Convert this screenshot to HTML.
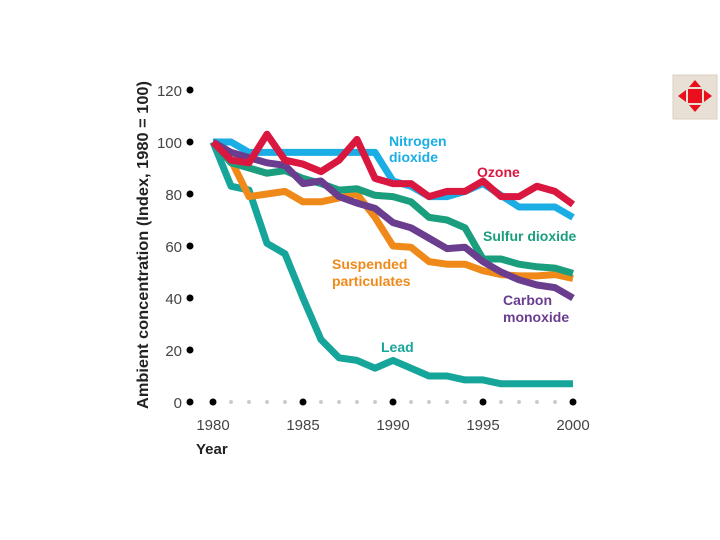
<!DOCTYPE html>
<html><head><meta charset="utf-8"><style>
body{margin:0;background:#fff;}
svg{display:block;font-family:"Liberation Sans",sans-serif;}
</style></head><body>
<svg id="c" width="720" height="540">
<g>
<rect x="673" y="75" width="44" height="44" fill="#e8e0d4" stroke="#d8cfc0"/>
<rect x="688" y="89" width="14" height="14" fill="#e8101c"/>
<polygon points="695,80 689,87 701,87" fill="#e8101c"/>
<polygon points="695,112 689,105 701,105" fill="#e8101c"/>
<polygon points="678,96 686,90 686,102" fill="#e8101c"/>
<polygon points="712,96 704,90 704,102" fill="#e8101c"/>
</g>
<g id="axes"></g><g id="lines"></g>
<text x="0" y="0" transform="translate(148,245) rotate(-90)" text-anchor="middle" font-size="16" font-weight="bold" fill="#222" textLength="328" lengthAdjust="spacingAndGlyphs">Ambient concentration (Index, 1980 = 100)</text>
<text x="196" y="454" font-size="15" font-weight="bold" fill="#222">Year</text>
<g font-weight="bold" font-size="14">
<text x="389" y="146" fill="#1aaee5"><tspan x="389">Nitrogen</tspan><tspan x="389" dy="16">dioxide</tspan></text>
<text x="477" y="177" fill="#d9173f">Ozone</text>
<text x="483" y="241" fill="#1a9e7e">Sulfur dioxide</text>
<text x="332" y="269" fill="#ef8a1a"><tspan x="332">Suspended</tspan><tspan x="332" dy="17">particulates</tspan></text>
<text x="503" y="305" fill="#6a3d8f"><tspan x="503">Carbon</tspan><tspan x="503" dy="17">monoxide</tspan></text>
<text x="381" y="352" fill="#16a59a">Lead</text>
</g>
</svg>
<script>
const years=[1980,1981,1982,1983,1984,1985,1986,1987,1988,1989,1990,1991,1992,1993,1994,1995,1996,1997,1998,1999,2000];
const yTicks=[0,20,40,60,80,100,120];
const xTickLabels=[1980,1985,1990,1995,2000];
const lead=[100,83,81.5,61,57,40,24,17,16,13,16,13,10,10,8.5,8.5,7,7,7,7,7];
const tsp=[100,93,79,80,81,77,77,78.5,80,71,60,59.5,54,53,53,50.5,49,48.5,48.5,49,47.5];
const so2=[100,92,90,88,89,86,84,81.5,82,79.5,79,77,71,70,67,55,55,53,52,51.5,49.5];
const co=[100,96,94,92,91,84,85,79,76.5,74.5,69,67,63,59,59.5,54,50,47,45,44,40];
const no2=[100,100,96,96,96,96,96,96,96,96,85,83,79,79,81,84,79.5,75,75,75,71];
const ozone=[100,93,92,103,93,91.5,88.6,93,101,86,84,84,79,81,81,85,79,79,83,81,76];
const sx=y=>213+(y-1980)*18, sy=v=>402-v*2.6;
const NS="http://www.w3.org/2000/svg";
function mk(tag,parent,attrs){const e=document.createElementNS(NS,tag);for(const k in attrs)e.setAttribute(k,attrs[k]);parent.appendChild(e);return e;}
const ax=document.getElementById('axes');
yTicks.forEach(t=>{
 const d=mk('circle',ax,{cx:190,cy:sy(t),r:3.5,fill:'#000'});
 
 
 const tx=mk('text',ax,{x:182,y:sy(t)+6,'text-anchor':'end','font-size':15,fill:'#444'});
 tx.textContent=t;
 
 
});
years.forEach(y=>{
 const big=(y%5===0);
 const d=mk('circle',ax,{cx:sx(y),cy:402,r:big?3.5:2,fill:big?'#000':'#ccc'});
 
 
});
xTickLabels.forEach(y=>{
 const tx=mk('text',ax,{x:sx(y),y:430,'text-anchor':'middle','font-size':15,fill:'#444'});
 tx.textContent=y;
 
 
});
const L=document.getElementById('lines');
const series=[['lead',lead,'#16a59a'],['suspended-particulates',tsp,'#ef8a1a'],['nitrogen-dioxide',no2,'#1aaee5'],['sulfur-dioxide',so2,'#1a9e7e'],['carbon-monoxide',co,'#6a3d8f'],['ozone',ozone,'#d9173f']];
series.forEach(([n,vals,c])=>{
 const p=mk('polyline',L,{points:vals.map((v,i)=>sx(years[i])+','+sy(v)).join(' '),fill:'none',stroke:c,'stroke-width':7,'stroke-linejoin':'round'});
 
 
});
</script>
</body></html>
